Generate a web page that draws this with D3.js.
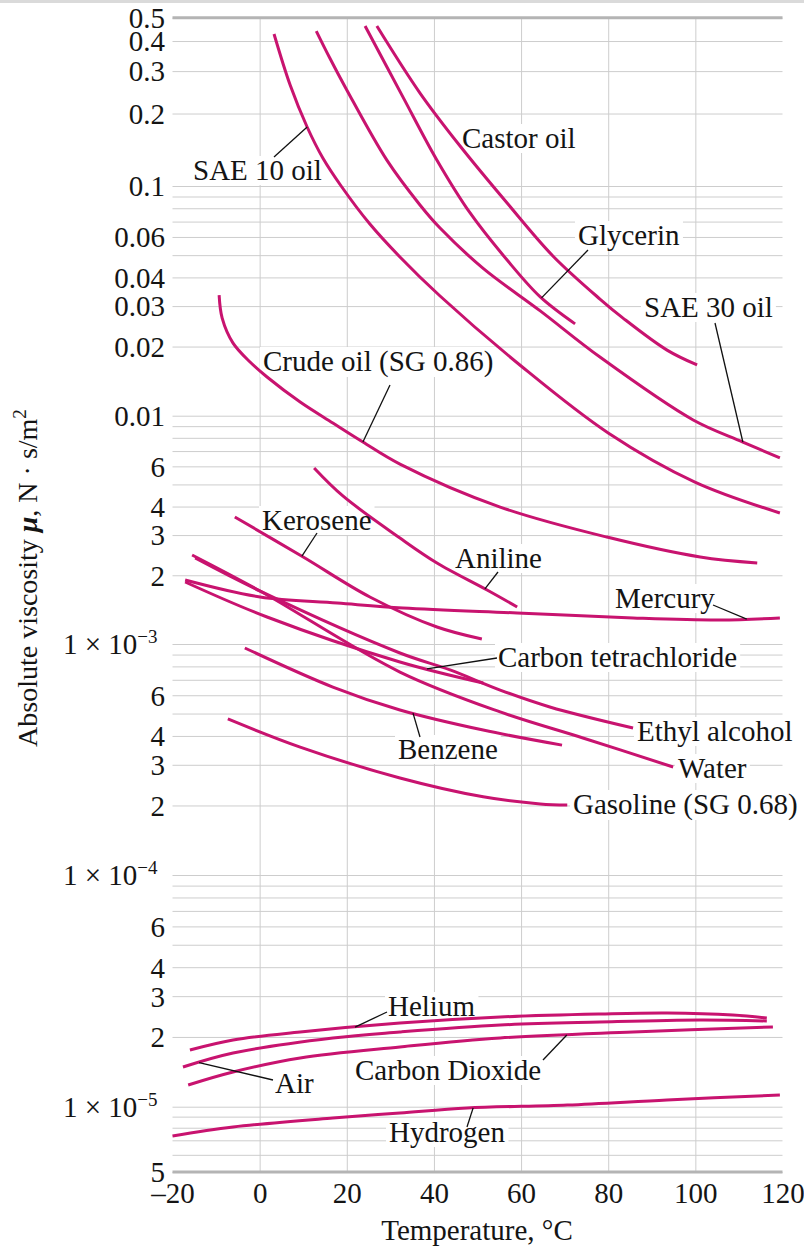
<!DOCTYPE html>
<html><head><meta charset="utf-8">
<script src="https://cdn.jsdelivr.net/npm/d3@7"></script>
<style>
html,body{margin:0;padding:0;background:#fff}
svg{display:block}
text{font-family:"Liberation Serif","Times New Roman",serif;fill:#141414}
</style>
</head><body>
<svg id="c" width="804" height="1248"></svg>
<script>
// ---- data: [temperature °C, absolute viscosity N·s/m²] ----
const sae10Oil   = [[3.3,0.428],[7.0,0.2627],[10.9,0.1758],[14.5,0.1307],[18.7,0.100],[25.3,0.0683],[32.2,0.0491],[41.4,0.0332],[60.0,0.01646],[80.0,0.0084],[99.9,0.00512],[119.4,0.00375]];
const sae30Oil   = [[13.0,0.440],[16.1,0.340],[20.0,0.2505],[29.2,0.128],[36.8,0.0827],[41.4,0.0656],[51.3,0.0438],[64.4,0.0286],[78.1,0.0180],[99.5,0.00958],[110.9,0.00767],[119.4,0.00653]];
const glycerin   = [[24.2,0.462],[32.9,0.234],[40.7,0.128],[48.3,0.0763],[56.8,0.0476],[64.4,0.0329],[72.4,0.0251]];
const castorOil  = [[26.9,0.462],[36.8,0.2433],[46.0,0.1466],[56.8,0.0843],[67.3,0.0496],[78.1,0.0322],[83.4,0.0266],[93.5,0.0193],[100.4,0.01663]];
const crudeOil   = [[-9.3,0.0335],[-8.6,0.0266],[-6.1,0.0207],[-2.2,0.01713],[1.7,0.01474],[9.3,0.01147],[16.8,0.00929],[23.7,0.00767],[32.2,0.00614],[55.2,0.00398],[79.7,0.00294],[101.1,0.002405],[114.2,0.002264]];
const kerosene   = [[-5.7,0.0036],[10.0,0.002405],[25.3,0.001607],[40.7,0.001187],[51.0,0.001052]];
const aniline    = [[12.5,0.0059],[19.1,0.00445],[32.2,0.002913],[40.7,0.002264],[52.2,0.001724],[59.1,0.001453]];
const mercury    = [[-17.1,0.001907],[0.1,0.001607],[17.8,0.001512],[32.9,0.001438],[59.1,0.001367],[85.7,0.0013],[105.7,0.001274],[119.4,0.0013]];
const water      = [[-15.5,0.002454],[0.1,0.001707],[32.2,0.000756],[55.2,0.000508],[74.2,0.000392],[94.9,0.0002935]];
const ethylAlcohol = [[-14.8,0.00238],[0.5,0.00169],[32.2,0.000914],[43.7,0.000772],[55.2,0.000632],[66.6,0.000534],[85.7,0.000433]];
const carbonTetrachloride = [[-17.1,0.001869],[1.7,0.001313],[32.2,0.000836],[51.3,0.000678]];
const benzene    = [[-3.4,0.000961],[16.8,0.000651],[32.2,0.000518],[51.3,0.000424],[69.4,0.000365]];
const gasoline   = [[-7.3,0.000474],[9.3,0.000358],[32.2,0.000263],[51.3,0.000218],[64.4,0.000203],[70.6,0.000201]];
const helium     = [[-16.0,1.757e-5],[-6.1,1.941e-5],[9.3,2.101e-5],[32.2,2.297e-5],[55.2,2.439e-5],[78.1,2.512e-5],[93.5,2.537e-5],[108.6,2.488e-5],[116.4,2.415e-5]];
const air        = [[-17.6,1.483e-5],[-6.1,1.705e-5],[16.8,1.98e-5],[32.2,2.101e-5],[55.2,2.252e-5],[78.1,2.32e-5],[101.1,2.367e-5],[116.4,2.344e-5]];
const carbonDioxide = [[-16.4,1.241e-5],[-6.1,1.412e-5],[9.3,1.623e-5],[32.2,1.81e-5],[55.2,1.98e-5],[85.7,2.101e-5],[117.8,2.208e-5]];
const hydrogen   = [[-20.0,7.33e-6],[-6.1,8.06e-6],[16.8,8.87e-6],[32.2,9.35e-6],[47.6,9.86e-6],[70.6,1.017e-5],[93.5,1.069e-5],[119.4,1.123e-5]];

const seriesList = [sae10Oil,sae30Oil,glycerin,castorOil,crudeOil,kerosene,aniline,mercury,water,ethylAlcohol,carbonTetrachloride,benzene,gasoline,helium,air,carbonDioxide,hydrogen];

// ---- ticks ----
const xTickValues = [-20,0,20,40,60,80,100,120];
const xGridValues = [0,20,40,60,80,100];
const yTickValues = [0.5,0.4,0.3,0.2,0.1,0.06,0.04,0.03,0.02,0.01,6e-3,4e-3,3e-3,2e-3,1e-3,6e-4,4e-4,3e-4,2e-4,1e-4,6e-5,4e-5,3e-5,2e-5,1e-5,5e-6];
const yTickLabels = ["0.5","0.4","0.3","0.2","0.1","0.06","0.04","0.03","0.02","0.01","6","4","3","2","1 × 10^−3","6","4","3","2","1 × 10^−4","6","4","3","2","1 × 10^−5","5"];

// ---- annotations: label text, text position (px), optional leader [from px, series, T on curve] ----
const annotations = [
  {t:"SAE 10 oil", x:193, y:180, leader:{from:[274,157], s:sae10Oil, T:10.9}},
  {t:"Castor oil", x:462, y:148},
  {t:"Glycerin", x:578, y:245, leader:{from:[588,250], s:glycerin, T:64.7}},
  {t:"SAE 30 oil", x:644, y:317, leader:{from:[715,323], s:sae30Oil, T:110.9}},
  {t:"Crude oil (SG 0.86)", x:263, y:371, leader:{from:[390,385], s:crudeOil, T:23.7}},
  {t:"Kerosene", x:262, y:530, leader:{from:[317,533], s:kerosene, T:9.7}},
  {t:"Aniline", x:455, y:568, leader:{from:[498,572], s:aniline, T:51.7}},
  {t:"Mercury", x:615, y:608, leader:{from:[713,605], s:mercury, T:111.8}},
  {t:"Carbon tetrachloride", x:498, y:667, leader:{from:[497,658], s:carbonTetrachloride, T:38.4}},
  {t:"Ethyl alcohol", x:637, y:741},
  {t:"Water", x:678, y:778},
  {t:"Benzene", x:398, y:759, leader:{from:[420,737], s:benzene, T:35.2}},
  {t:"Gasoline (SG 0.68)", x:573, y:814},
  {t:"Helium", x:388, y:1016, leader:{from:[387,1012], s:helium, T:21.9}},
  {t:"Air", x:275, y:1093, leader:{from:[273,1080], s:air, T:-13.9}},
  {t:"Carbon Dioxide", x:355, y:1080, leader:{from:[543,1060], s:carbonDioxide, T:70.5}},
  {t:"Hydrogen", x:389, y:1142, leader:{from:[467,1127], s:hydrogen, T:49}}
];

// ---- scales ----
const x = d3.scaleLinear().domain([-20,120]).range([172.5,782.5]);
const y = d3.scaleLog()
  .domain([5e-6,1e-5,1e-4,1e-3,1e-2,0.1,0.5])
  .range([1172,1106.7,875,644,415.7,186,17.7]);

const X0 = x.range()[0], X1 = x.range()[1];
const YT = y(0.5), YB = y(5e-6);
const FONT = 29;
const CURVE = "#c8136f";
const GRID = "#cdcdcd";

const svg = d3.select("#c");
svg.append("rect").attr("x",0).attr("y",0).attr("width",804).attr("height",3).attr("fill","#dadada");

// horizontal grid
const gridVals = [];
[1e-6,1e-5,1e-4,1e-3,1e-2,1e-1].forEach(e=>{ for(let k=1;k<=9;k++){ const v=k*e; if(v>=5e-6*0.999 && v<=0.5*1.001) gridVals.push(v);} });
const gy = svg.append("g").attr("transform",`translate(${X0},0)`)
  .call(d3.axisLeft(y).tickValues(gridVals).tickSize(-(X1-X0)).tickFormat(""));
gy.select(".domain").remove();
gy.selectAll("line").attr("stroke",GRID).attr("stroke-width",1);

// vertical grid
const gx = svg.append("g").attr("transform",`translate(0,${YB})`)
  .call(d3.axisBottom(x).tickValues(xGridValues).tickSize(-(YB-YT)).tickFormat(""));
gx.select(".domain").remove();
gx.selectAll("line").attr("stroke",GRID).attr("stroke-width",1);

// heavy top and bottom rules
svg.append("g").selectAll("line").data([0.5,5e-6]).join("line")
  .attr("x1",X0).attr("x2",X1).attr("y1",d=>y(d)).attr("y2",d=>y(d))
  .attr("stroke","#b4b4b4").attr("stroke-width",3);

// label background layer (hides grid behind labels)
const bgLayer = svg.append("g");

// curves
const line = d3.line().x(d=>x(d[0])).y(d=>y(d[1])).curve(d3.curveCatmullRom.alpha(0.5));
svg.append("g").selectAll("path").data(seriesList).join("path")
  .attr("d",line).attr("fill","none").attr("stroke",CURVE).attr("stroke-width",3)
  .attr("stroke-linecap","butt");

// y tick labels
const ly = svg.append("g").attr("transform",`translate(${X0},0)`)
  .call(d3.axisLeft(y).tickValues(yTickValues).tickSize(0).tickPadding(7.5)
    .tickFormat((d,i)=>yTickLabels[i]));
ly.select(".domain").remove();
ly.selectAll("text").each(function(d,i){
  const s = yTickLabels[i];
  const t = d3.select(this).attr("font-size",FONT).attr("font-family",null).attr("fill","#141414").attr("dy","0.34em");
  if (s.includes("^")) {
    const [base,exp] = s.split("^");
    t.text(null).attr("x",-15);
    t.append("tspan").text(base);
    t.append("tspan").attr("font-size",19).attr("dy",-11).text(exp);
  }
});

// x tick labels
const lx = svg.append("g").attr("transform",`translate(0,${YB})`)
  .call(d3.axisBottom(x).tickValues(xTickValues).tickSize(0).tickPadding(10)
    .tickFormat(d=> d<0 ? "–"+Math.abs(d) : String(d)));
lx.select(".domain").remove();
lx.selectAll("text").attr("font-size",FONT).attr("font-family",null).attr("fill","#141414");

// axis titles
svg.append("text").attr("x",477).attr("y",1240).attr("text-anchor","middle")
  .attr("font-size",FONT).text("Temperature, °C");
const yt = svg.append("text").attr("transform","translate(37,578) rotate(-90)")
  .attr("text-anchor","middle").attr("font-size",28);
yt.append("tspan").text("Absolute viscosity ");
yt.append("tspan").attr("font-weight","bold").attr("font-style","italic").text("μ");
yt.append("tspan").text(", N · s/m");
yt.append("tspan").attr("font-size",19).attr("dy",-11).text("2");

// leaders
function pointOn(s,T){
  for(let i=0;i<s.length-1;i++){
    const a=s[i], b=s[i+1];
    if(T>=a[0] && T<=b[0]){
      const f=(T-a[0])/(b[0]-a[0]);
      return [x(T), y(Math.pow(10, Math.log10(a[1])+f*(Math.log10(b[1])-Math.log10(a[1]))))];
    }
  }
  const e = T<s[0][0]?s[0]:s[s.length-1];
  return [x(e[0]),y(e[1])];
}
const lg = svg.append("g");
annotations.filter(a=>a.leader).forEach(a=>{
  const p = pointOn(a.leader.s, a.leader.T);
  lg.append("line").attr("x1",a.leader.from[0]).attr("y1",a.leader.from[1])
    .attr("x2",p[0]).attr("y2",p[1]).attr("stroke","#111").attr("stroke-width",1.3);
});

// labels
const tg = svg.append("g");
annotations.forEach(a=>{
  const t = tg.append("text").attr("x",a.x).attr("y",a.y).attr("font-size",FONT).text(a.t);
  const b = t.node().getBBox();
  bgLayer.append("rect").attr("x",b.x-3).attr("y",b.y+2).attr("width",b.width+6).attr("height",b.height-3).attr("fill","#fff");
});
</script>
</body></html>
